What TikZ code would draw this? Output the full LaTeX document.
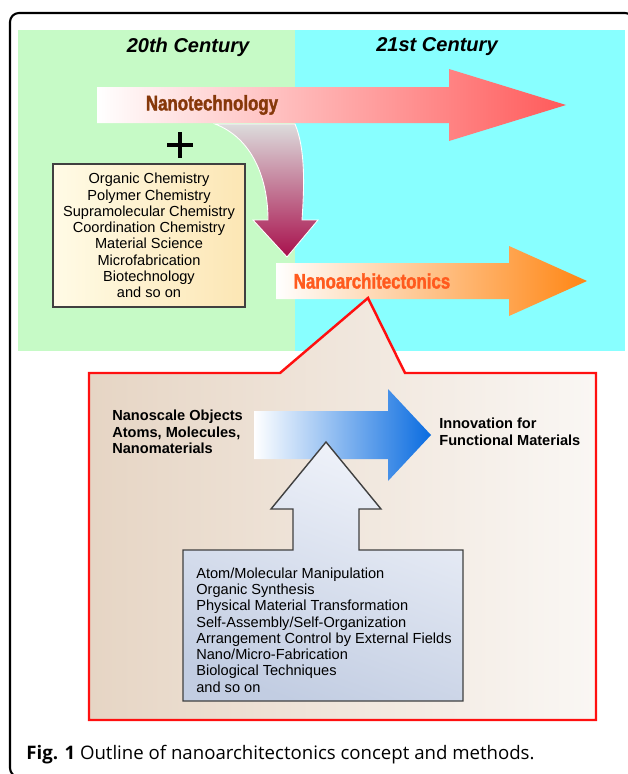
\documentclass[tikz,border=0pt]{standalone}
\usepackage{fontspec}
\setmainfont{Liberation Sans}
\newfontfamily\capfont{Open Sans}
\newfontfamily\impactfont[FakeStretch=0.8,FakeBold=1.6]{Liberation Sans}
\definecolor{oldgreen}{HTML}{C6FAC6}
\definecolor{newcyan}{HTML}{88FFFF}
\definecolor{techpink}{HTML}{F7A9AA}
\definecolor{techred}{HTML}{FF5A5A}
\definecolor{techbrown}{HTML}{86380A}
\definecolor{archpeach}{HTML}{FCCB9C}
\definecolor{archorange}{HTML}{FF8614}
\definecolor{archred}{HTML}{FF5A1E}
\definecolor{bendgray}{HTML}{DCDCDC}
\definecolor{bendpink}{HTML}{E8708E}
\definecolor{bendcrimson}{HTML}{A8104C}
\definecolor{fieldlight}{HTML}{FFFBE6}
\definecolor{fielddark}{HTML}{FCE6B4}
\definecolor{calloutred}{HTML}{FF1010}
\definecolor{callouttan}{HTML}{E6D5C4}
\definecolor{calloutwhite}{HTML}{FAF7F4}
\definecolor{bluemid}{HTML}{8CC0F0}
\definecolor{bluedeep}{HTML}{0A6CE0}
\definecolor{methodlight}{HTML}{F0F3FA}
\definecolor{methoddark}{HTML}{C2CDE2}
\definecolor{framegray}{HTML}{404040}
% horizontal block arrow: left x, head x, tip x, mid y, half band, half head, shading
\newcommand{\harrow}[7]{\shade[#7] (#1,#4-#5) -- (#2,#4-#5) -- (#2,#4-#6) -- (#3,#4) -- (#2,#4+#6) -- (#2,#4+#5) -- (#1,#4+#5) -- cycle;}

\begin{document}
\begin{tikzpicture}[x=0.02cm, y=-0.02cm,
    century/.style={inner sep=0pt, font=\fontsize{11.4}{13}\selectfont\bfseries\itshape},
    brand/.style={inner sep=0pt, font=\fontsize{12}{14}\selectfont\impactfont\bfseries},
    listtext/.style={inner sep=0pt, font=\fontsize{8.3}{9.25}\selectfont},
    boldtext/.style={inner sep=0pt, align=left, font=\fontsize{8.3}{9.5}\selectfont\bfseries}]
    \useasboundingbox (0,0) rectangle (627,774);
    % backgrounds
    \fill[oldgreen] (18,30) rectangle (295,351);
    \fill[newcyan] (295,30) rectangle (625,351);
    \node[century] (c20) at (188,47) {20th Century};
    \node[century] (c21) at (437,47) {21st Century};
    % nanotechnology arrow
    \harrow{97}{449}{566}{105}{18}{36}{left color=white, middle color=techpink, right color=techred}
    \node[brand, text=techbrown] (tech) at (212,105) {Nanotechnology};
    % bent arrow
    \shade[top color=bendgray, middle color=bendpink, bottom color=bendcrimson, draw=white, line width=0.5pt]
        (215,124) -- (295,124) .. controls (306,150) and (304,190) .. (302,220) -- (318,220)
        -- (287,257) -- (253,220) -- (268,220) .. controls (268,178) and (252,138) .. (215,124) -- cycle;
    % plus
    \draw[line width=3.4*0.02cm] (167,145) -- (193,145) (180,132) -- (180,158);
    % fields box
    \node[listtext, draw=framegray, line width=0.9pt, left color=fieldlight, right color=fielddark,
        minimum width=3.84cm, minimum height=2.86cm, align=center] (fields) at (149,235.5)
        {Organic Chemistry\\Polymer Chemistry\\Supramolecular Chemistry\\Coordination Chemistry\\Material Science\\Microfabrication\\Biotechnology\\and so on};
    % nanoarchitectonics arrow
    \harrow{276}{509}{587}{281}{18}{35}{left color=white, middle color=archpeach, right color=archorange}
    \node[brand, text=archred] (arch) at (372,281) {Nanoarchitectonics};
    % callout
    \shade[left color=callouttan, right color=calloutwhite, draw=calloutred, line width=1.4pt]
        (89,373) -- (280,373) -- (368,298) -- (405,373) -- (596,373) -- (596,720) -- (89,720) -- cycle;
    % blue arrow
    \harrow{254}{388}{431}{435}{24}{46}{left color=white, middle color=bluemid, right color=bluedeep}
    \node[boldtext, anchor=west] (objects) at (112,432) {Nanoscale Objects\\Atoms, Molecules,\\Nanomaterials};
    \node[boldtext, anchor=west] (innovation) at (439,431.5) {Innovation for\\Functional Materials};
    % methods box with up arrow
    \shade[left color=methodlight, right color=methoddark, shading angle=-20, draw=framegray, line width=0.8pt]
        (183,550) -- (293,550) -- (293,509) -- (271,509) -- (326,442) -- (381,509) -- (359,509)
        -- (359,550) -- (463,550) -- (463,701) -- (183,701) -- cycle;
    \node[listtext, anchor=west, align=left] (methods) at (196,630)
        {Atom/Molecular Manipulation\\Organic Synthesis\\Physical Material Transformation\\Self-Assembly/Self-Organization\\Arrangement Control by External Fields\\Nano/Micro-Fabrication\\Biological Techniques\\and so on};
    % frame and caption
    \draw[line width=1.2pt, rounded corners=0.18cm] (10,13) rectangle (634,777);
    \node[inner sep=0pt, anchor=base west, font=\fontsize{10.6}{12}\selectfont\capfont] (caption) at (26,759)
        {\textbf{Fig. 1} Outline of nanoarchitectonics concept and methods.};
\end{tikzpicture}
\end{document}
